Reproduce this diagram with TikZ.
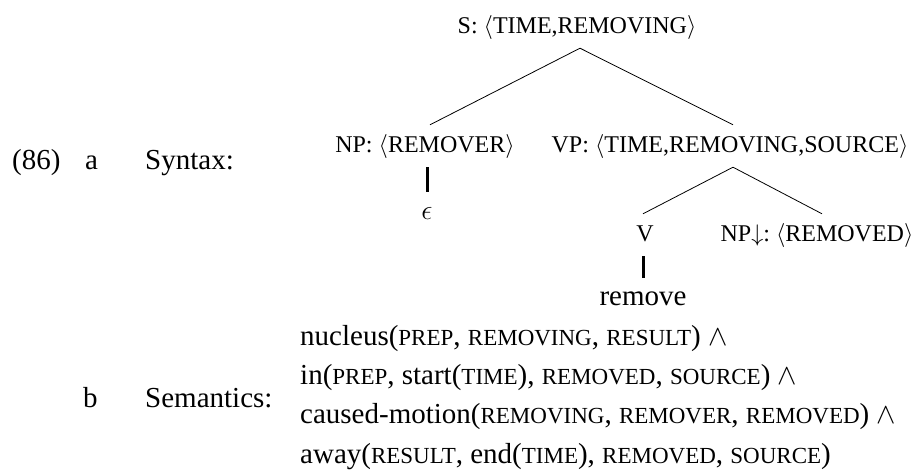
\documentclass[tikz,border=0pt]{standalone}
\usepackage{fix-cm}
\usepackage{fontspec}
\setmainfont{Liberation Serif}

\newcommand{\smallcap}[1]{{\fontsize{23}{23}\selectfont #1}}

\tikzset{
    lab/.style={anchor=base west, inner sep=0pt, font=\fontsize{29}{35}\selectfont},
    cat/.style={anchor=base, inner xsep=0pt, inner ysep=10pt, text height=18pt, text depth=4pt,
        font=\fontsize{24}{29}\selectfont},
    word/.style={cat, font=\fontsize{29}{35}\selectfont},
    branch/.style={line width=0.8pt},
    stem/.style={line width=3pt},
}

\begin{document}
\begin{tikzpicture}[x=1pt, y=-1pt]
    \useasboundingbox (0, 0) rectangle (919, 470);

    \node[lab] (num) at (12, 170) {(86)};
    \node[lab] (itema) at (85, 170) {a};
    \node[lab] (syn) at (145, 170) {Syntax:};
    \node[lab] (itemb) at (83, 408) {b};
    \node[lab] (sem) at (145, 408) {Semantics:};

    \node[cat] (s) at (577, 34) {S:~$\langle$TIME,REMOVING$\rangle$};
    \node[cat] (np) at (425, 153) {NP:~$\langle$REMOVER$\rangle$};
    \node[cat] (vp) at (730, 153) {VP:~$\langle$TIME,REMOVING,SOURCE$\rangle$};
    \node[cat, font=\fontsize{28}{32}\selectfont] (eps) at (427, 220) {$\epsilon$};
    \node[cat] (v) at (645, 242) {V};
    \node[cat] (npsub) at (817, 242) {NP$\downarrow$:~$\langle$REMOVED$\rangle$};
    \node[word] (remove) at (643, 306) {remove};

    \draw[branch] ([xshift=3pt]s.south) -- ([xshift=5pt]np.north);
    \draw[branch] ([xshift=3pt]s.south) -- ([xshift=3pt]vp.north);
    \draw[branch] ([xshift=3pt]vp.south) -- ([xshift=-2pt]v.north);
    \draw[branch] ([xshift=3pt]vp.south) -- ([xshift=5pt]npsub.north);
    \draw[stem] (eps.north |- np.south) -- (eps.north);
    \draw[stem] (remove.north |- v.south) -- (remove.north);

    \node[lab] (sem1) at (300, 346) {nucleus(\smallcap{PREP}, \smallcap{REMOVING}, \smallcap{RESULT}) $\wedge$};
    \node[lab] (sem2) at (300, 385) {in(\smallcap{PREP}, start(\smallcap{TIME}), \smallcap{REMOVED}, \smallcap{SOURCE}) $\wedge$};
    \node[lab] (sem3) at (300, 424) {caused-motion(\smallcap{REMOVING}, \smallcap{REMOVER}, \smallcap{REMOVED}) $\wedge$};
    \node[lab] (sem4) at (300, 463) {away(\smallcap{RESULT}, end(\smallcap{TIME}), \smallcap{REMOVED}, \smallcap{SOURCE})};
\end{tikzpicture}
\end{document}
